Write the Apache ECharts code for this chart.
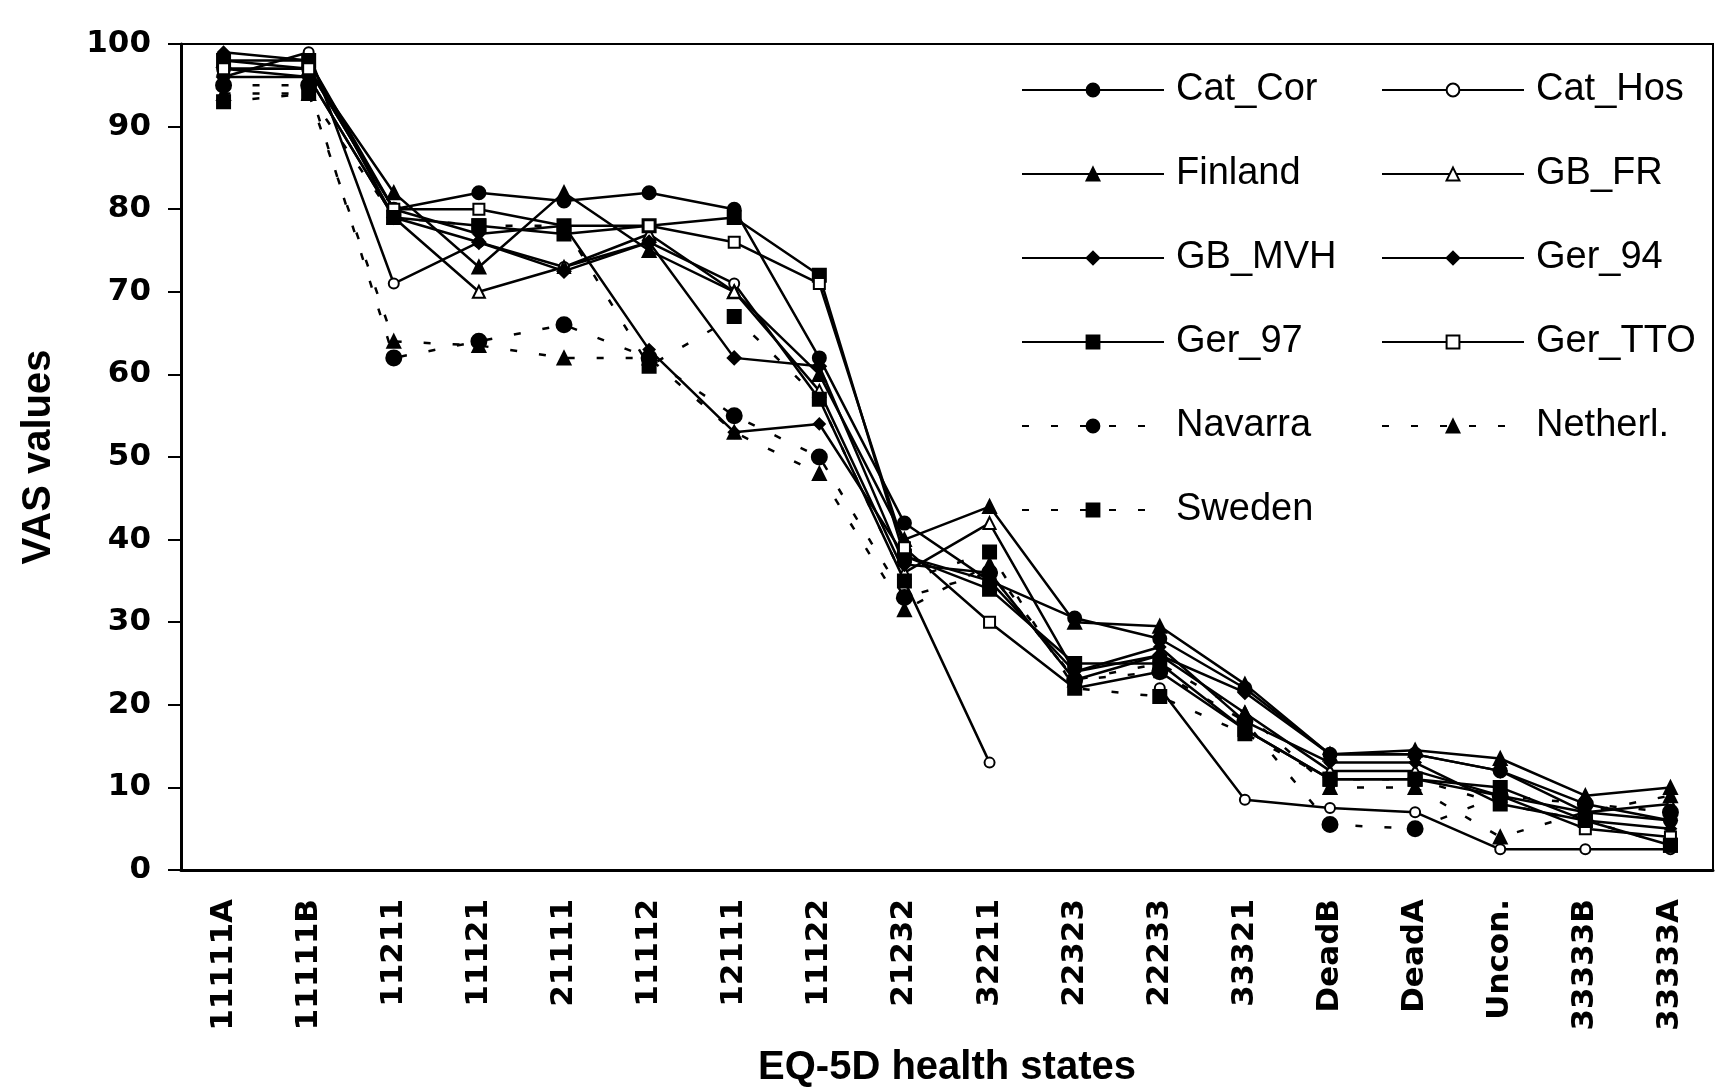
<!DOCTYPE html>
<html>
<head>
<meta charset="utf-8">
<script src="https://cdn.jsdelivr.net/npm/echarts@6/dist/echarts.min.js"></script>
<style>
html, body { margin: 0; padding: 0; background: #fff; }
#vasChart { width: 1716px; height: 1087px; }
</style>
</head>
<body>
<div id="vasChart"></div>
<script>
var healthStates = ['11111A', '11111B', '11211', '11121', '21111', '11112', '12111', '11122', '21232',
    '32211', '22323', '22233', '33321', 'DeadB', 'DeadA', 'Uncon.', '33333B', '33333A'];
var yTicks = [0, 10, 20, 30, 40, 50, 60, 70, 80, 90, 100];

var catCor  = [97, 97, 80, 82, 81, 82, 80, 62, 42, 35, 30.5, 28, 22, 14, 14, 12, 8, 6];
var catHos  = [96, 99, 71, 76, 73, 76, 71, 57, 35, 13, null, 22, 8.5, 7.5, 7, 2.5, 2.5, 2.5];
var finland = [98, 97, 82, 73, 82, 75, 70, 60, 40, 44, 30, 29.5, 22.5, 14, 14.5, 13.5, 9, 10];
var gbFr    = [97, 96, 79, 70, 73, 77, 70, 58, 36, 42, 24, 26, 19, 12, 12, 9, 7, 8];
var gbMvh   = [99, 98, 80, 77, 78, 63, 53, 54, 38, 35, 24, 27, 18, 13, 13, 8, 6, 5];
var ger94   = [96, 96, 79, 76, 72.5, 76, 62, 61, 37, 36, 23, 26, 21.5, 14, 14, 12, 7, 6];
var ger97   = [98, 98, 79, 78, 77, 78, 79, 72, 38, 34, 25, 25, 17, 11, 11, 10, 6, 3];
var gerTto  = [97, 97, 80, 80, 78, 78, 76, 71, 39, 30, 22, 24, 17, 11, 11, 9, 5, 4];
var navarra = [95, 95, 62, 64, 66, 62, 55, 50, 33, 36, 23, 24, 18, 5.5, 5, 9, 8, 7];
var netherl = [94, 94, 64, 63.5, 62, 62, 53, 48, 31.5, 37, 23, 25, 19, 10, 10, 4, 7, 9];
var sweden  = [93, 94, 79, 78, 78, 61, 67, 57, 35, 38.5, 22, 21, 16.5, 11, 11, 8, 6, 3];

function vasLine(name, data, symbol, size, dotted) {
    return {
        type: 'line',
        name: name,
        data: data,
        symbol: symbol,
        symbolSize: size,
        connectNulls: false,
        animation: false,
        lineStyle: { color: '#000', width: 2.5, type: dotted ? [7, 22] : 'solid' },
        itemStyle: { color: '#000', borderColor: '#000', borderWidth: 2 }
    };
}

var vasDom = document.getElementById('vasChart');
var vasChart = echarts.init(vasDom, null, { renderer: 'canvas' });

var legendText = { fontFamily: 'Liberation Sans', fontSize: 38, color: '#000', lineHeight: 40, padding: [0, 0, 0, 7] };
var titleText = { fontFamily: 'Liberation Sans', fontWeight: 'bold', fontSize: 40, color: '#000' };

var vasOption = {
    backgroundColor: '#fff',
    animation: false,
    // keep the plot box fixed, labels may sit close to the edge
    grid: { left: 181, right: 3, top: 44, bottom: 217, show: true, borderColor: '#000', borderWidth: 2, outerBoundsMode: 'none' },
    legend: [{
        orient: 'vertical',
        left: 1021, top: 70, padding: 0,
        itemWidth: 142, itemHeight: 16, itemGap: 44,
        textStyle: legendText,
        data: ['Cat_Cor', 'Finland', 'GB_MVH', 'Ger_97', 'Navarra', 'Sweden']
    }, {
        orient: 'vertical',
        left: 1381, top: 70, padding: 0,
        itemWidth: 142, itemHeight: 16, itemGap: 44,
        textStyle: legendText,
        data: ['Cat_Hos', 'GB_FR', 'Ger_94', 'Ger_TTO', 'Netherl.']
    }],
    xAxis: {
        type: 'category',
        data: healthStates,
        boundaryGap: true,
        name: 'EQ-5D health states',
        nameLocation: 'middle',
        nameGap: 178,
        nameTextStyle: titleText,
        axisLine: { lineStyle: { color: '#000', width: 3 } },
        axisTick: { length: 13, lineStyle: { color: '#000', width: 2 } },
        axisLabel: { rotate: 90, margin: 29, interval: 0, fontFamily: 'DejaVu Sans', fontWeight: 'bold', fontSize: 31, color: '#000' }
    },
    yAxis: {
        type: 'value',
        min: yTicks[0],
        max: yTicks[yTicks.length - 1],
        interval: 10,
        name: 'VAS values',
        nameLocation: 'middle',
        nameGap: 122,
        nameTextStyle: titleText,
        axisLine: { show: true, lineStyle: { color: '#000', width: 3 } },
        axisTick: { show: true, length: 13, lineStyle: { color: '#000', width: 2 } },
        splitLine: { show: false },
        axisLabel: { margin: 30, fontFamily: 'DejaVu Sans', fontWeight: 'bold', fontSize: 31, color: '#000' }
    },
    series: [
        vasLine('Cat_Cor', catCor, 'circle', 13, false),
        vasLine('Cat_Hos', catHos, 'emptyCircle', 10, false),
        vasLine('Finland', finland, 'triangle', 13, false),
        vasLine('GB_FR', gbFr, 'emptyTriangle', 12, false),
        vasLine('GB_MVH', gbMvh, 'diamond', 11, false),
        vasLine('Ger_94', ger94, 'diamond', 13, false),
        vasLine('Ger_97', ger97, 'rect', 13, false),
        vasLine('Ger_TTO', gerTto, 'emptyRect', 11, false),
        vasLine('Navarra', navarra, 'circle', 15, true),
        vasLine('Netherl.', netherl, 'triangle', 13, true),
        vasLine('Sweden', sweden, 'rect', 13, true)
    ]
};

vasChart.setOption(vasOption);
</script>
</body>
</html>
